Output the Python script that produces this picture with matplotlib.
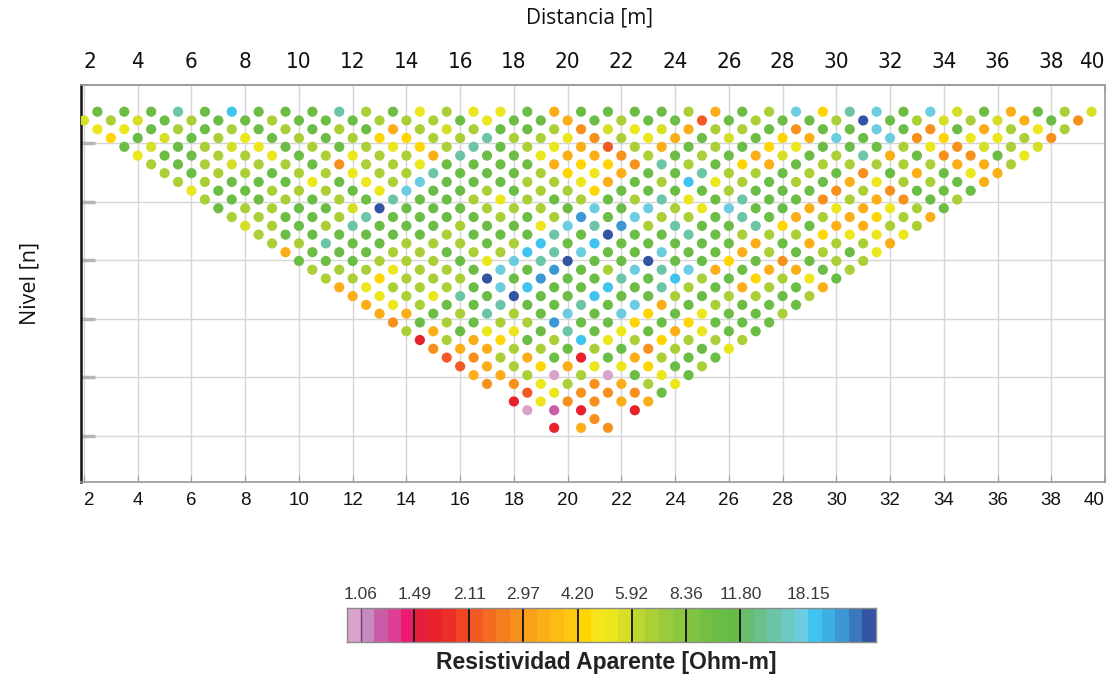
import numpy as np
import matplotlib
matplotlib.use("Agg")
import matplotlib.pyplot as plt
from matplotlib import font_manager as fm
from matplotlib.colors import ListedColormap, BoundaryNorm

# ---------------- data ----------------
# One string per measurement level (n = 1 .. 37); one character per data point,
# read left to right. '.' = no datum. Codes map to apparent resistivity (Ohm-m).
levels = [
    "GGGtGCGGGtlGylyyGAGGGGlAGlcYtcGcLGAGlL",
    "LlLGlGGlGGGlllGyGGAGlGGoGlGGlBGlLlLAGO",
    "yyGlGlGlGlGAlLlGGlOLyLAllGOGGcGOGAlyl",
    "YGLGlyGlGlYYlltllyOlyAGLGYAcGcOYyylO",
    "GLGlLyGlGlyYltGlyAolAGlGYyGGGlyOLlL",
    "yGGllyGlyllAtGGyAAOlGlGALGltAGOOGy",
    "lGlLllGOllyGGGGAYYOtlGYAGlllllAAl",
    "lGllGllylltGGGlYyAGGtllGlGOGAGyA",
    "llGGGyGylcGGGllyAGlCylGlGAyllGA",
    "yGGlllGycGGlGllYGGGGlGGGOlOGGG",
    "lGGlGlGtGGlylGlGltyGtGGOlAOGl",
    "GllGGLBGGGlllGcGclycGGAyAylG",
    "llGGltGGGGlGlbGcllGtGAlAYlA",
    "LlGltGGGlGGyctbltGGtYGAAll",
    "lGGGGGGlGGGtGBGGtGlllYyyy",
    "lltGGlllGlCGCGGGGGAGAllA",
    "AGGGllGllCtcGGcGGAlGlGy",
    "GGGlllGyctBGGBGGYGOGll",
    "lllyllGcGbGlctcAGAAGl",
    "llYlllBGbGGtGClGYlyG",
    "AylllGcCGGCGtlGAlGA",
    "AylytGBGGCGGlGllGl",
    "AylGGtGGtGcAGlGGG",
    "AAGltlGcGcYGyGGl",
    "OGlGllbGGYGYGGG",
    "lAGyyGtGyGAyGG",
    "RlAYGlCylYlll",
    "OAAllGlGOlGy",
    "oOlAGRGAlGG",
    "oAlYAyyYGl",
    "AAlPlPGyG",
    "OOylOAly",
    ".oyOOOG",
    "RyOOAA",
    "PMR.R",
    "..O.",
    "RAO",
]
code_value = {
    "P": 1.0, "M": 1.2, "R": 1.7, "o": 2.2, "O": 2.85, "A": 3.4,
    "Y": 4.4, "y": 5.2, "L": 5.7, "l": 6.7, "G": 10.3, "t": 14.6,
    "c": 17.5, "C": 19.0, "b": 22.5, "B": 26.5,
}
x_ticks = list(range(2, 41, 2))
cbar_ticks = [1.06, 1.49, 2.11, 2.97, 4.20, 5.92, 8.36, 11.80, 18.15]
cbar_major = [1.49, 2.11, 2.97, 4.20, 5.92, 8.36, 11.80]
bin_colors = [
    "#d9a3cb",
    "#c98bbf", "#c95ca6", "#de3f95", "#eb1b72",
    "#e41f3c", "#e8222b", "#eb2e27", "#ef4523",
    "#f15a24", "#f36c21", "#f57e20", "#f7901d",
    "#f9a11b", "#fbae18", "#fdbb13", "#fec80e",
    "#ffd502", "#f5e51a", "#ece71c", "#d6df26",
    "#bdd631", "#abd037", "#9bca3c", "#8dc63f",
    "#80c241", "#72bf44", "#6bbd45", "#66bb47",
    "#68bd6c", "#6bc18b", "#6dc5a7", "#6dc9c3",
    "#6ccde0", "#3fc3ef", "#3cb0e4", "#3b98d4",
    "#3a78bd", "#3453a3",
]

# ---------------- fonts ----------------
avail = {f.name for f in fm.fontManager.ttflist}
def pick(*names):
    for n in names:
        if n in avail:
            return n
    return "DejaVu Sans"
arial = pick("Liberation Sans", "DejaVu Sans")
human = pick("Open Sans", "Noto Sans", "DejaVu Sans")

narrow_prop = None
for f in fm.fontManager.ttflist:
    if f.name == "Liberation Sans Narrow" and f.weight in (400, "normal") and f.style == "normal":
        narrow_prop = fm.FontProperties(fname=f.fname, size=17)
        break
if narrow_prop is None:
    for f in fm.fontManager.ttflist:
        if f.name == "DejaVu Sans" and "Condensed" in f.fname and "Bold" not in f.fname \
                and "Oblique" not in f.fname:
            narrow_prop = fm.FontProperties(fname=f.fname, size=16)
            break
if narrow_prop is None:
    narrow_prop = fm.FontProperties(family=arial, size=16)

W, H = 1112, 680
fig = plt.figure(figsize=(W / 100, H / 100), dpi=100)
fig.patch.set_facecolor("white")

def fx(px):
    return px / W

def fy(py):
    return 1 - py / H

# ---------------- main pseudosection ----------------
ax = fig.add_axes([fx(80.5), fy(482), fx(1105) - fx(80.5), fy(85) - fy(482)])

xs, ys, vals = [], [], []
for n, row in enumerate(levels, start=1):
    first = 2.5 if n == 1 else 2 + (n - 2) / 2
    for i, ch in enumerate(row):
        if ch == ".":
            continue
        xs.append(first + i)
        ys.append(n)
        vals.append(code_value[ch])

ratio = (11.80 / 1.06) ** (1 / 28)
edges = 1.06 * ratio ** np.arange(-1, 39)
cmap = ListedColormap(bin_colors)
norm = BoundaryNorm(edges, cmap.N)

ax.scatter(xs, ys, c=vals, cmap=cmap, norm=norm, s=54, linewidths=0, zorder=3)
ax.set_xlim(1.87, 40.0)
ax.set_ylim(43.17, -2.04)

ax.set_xticks(x_ticks)
ax.set_yticks(np.arange(-2.04 + 6.66, 43.0, 6.66))
ax.grid(True, color="#d6d6d6", lw=1.0, zorder=0)
ax.set_axisbelow(True)
ax.tick_params(axis="y", left=True, labelleft=False, direction="in", length=10,
               width=2.5, color="#b5b5b5")
ax.tick_params(axis="x", bottom=True, top=False, direction="in", length=5,
               color="#a0a0a0", pad=7)
ax.set_xticklabels([str(t) for t in x_ticks], fontfamily=arial, fontsize=13.5,
                   color="#111111")
for sp in ["top", "right", "bottom"]:
    ax.spines[sp].set_color("#9a9a9a")
    ax.spines[sp].set_linewidth(1.2)
ax.spines["left"].set_color("#111111")
ax.spines["left"].set_linewidth(1.8)

sec = ax.secondary_xaxis("top")
sec.set_xticks(x_ticks)
sec.set_xticklabels([str(t) for t in x_ticks], fontproperties=narrow_prop,
                    color="#111111")
sec.tick_params(direction="in", length=5, color="#a0a0a0", pad=9)
sec.spines["top"].set_color("#9a9a9a")
sec.spines["top"].set_linewidth(1.2)

for labs in (ax.get_xticklabels(), sec.get_xticklabels()):
    labs[0].set_horizontalalignment("left")
    labs[-1].set_horizontalalignment("right")

fig.text(fx(590), fy(18), "Distancia [m]", ha="center", va="center",
         fontsize=15, fontfamily=human, color="#111111")
fig.text(fx(30), fy(283), "Nivel [n]", ha="center", va="center", rotation=90,
         fontsize=15.5, fontfamily=human, color="#111111")

# ---------------- colour bar ----------------
cax = fig.add_axes([fx(347), fy(642), fx(876) - fx(347), fy(608) - fy(642)])
cax.set_xscale("log")
for i in range(len(bin_colors)):
    cax.axvspan(edges[i], edges[i + 1], color=bin_colors[i], lw=0)
cax.set_xlim(edges[0], edges[-1])
cax.set_ylim(0, 1)
for v in cbar_major:
    cax.axvline(v, color="#111111", lw=1.3)
cax.axvline(1.06, color="#6d3f7e", lw=1.0)
cax.set_yticks([])
cax.xaxis.set_minor_locator(matplotlib.ticker.NullLocator())
cax.set_xticks(cbar_ticks)
cax.set_xticklabels(["%.2f" % v for v in cbar_ticks], fontfamily=arial,
                    fontsize=12.5, color="#3a3a3a")
cax.tick_params(axis="x", top=True, labeltop=True, bottom=False,
                labelbottom=False, length=0, pad=4)
for sp in cax.spines.values():
    sp.set_color("#8a8a8a")
    sp.set_linewidth(1.0)

fig.text(fx(606), fy(662), "Resistividad Aparente [Ohm-m]", ha="center",
         va="center", fontsize=16.5, fontweight="bold", fontfamily=arial,
         color="#222222")

fig.savefig("out.png", dpi=100, facecolor="white")
